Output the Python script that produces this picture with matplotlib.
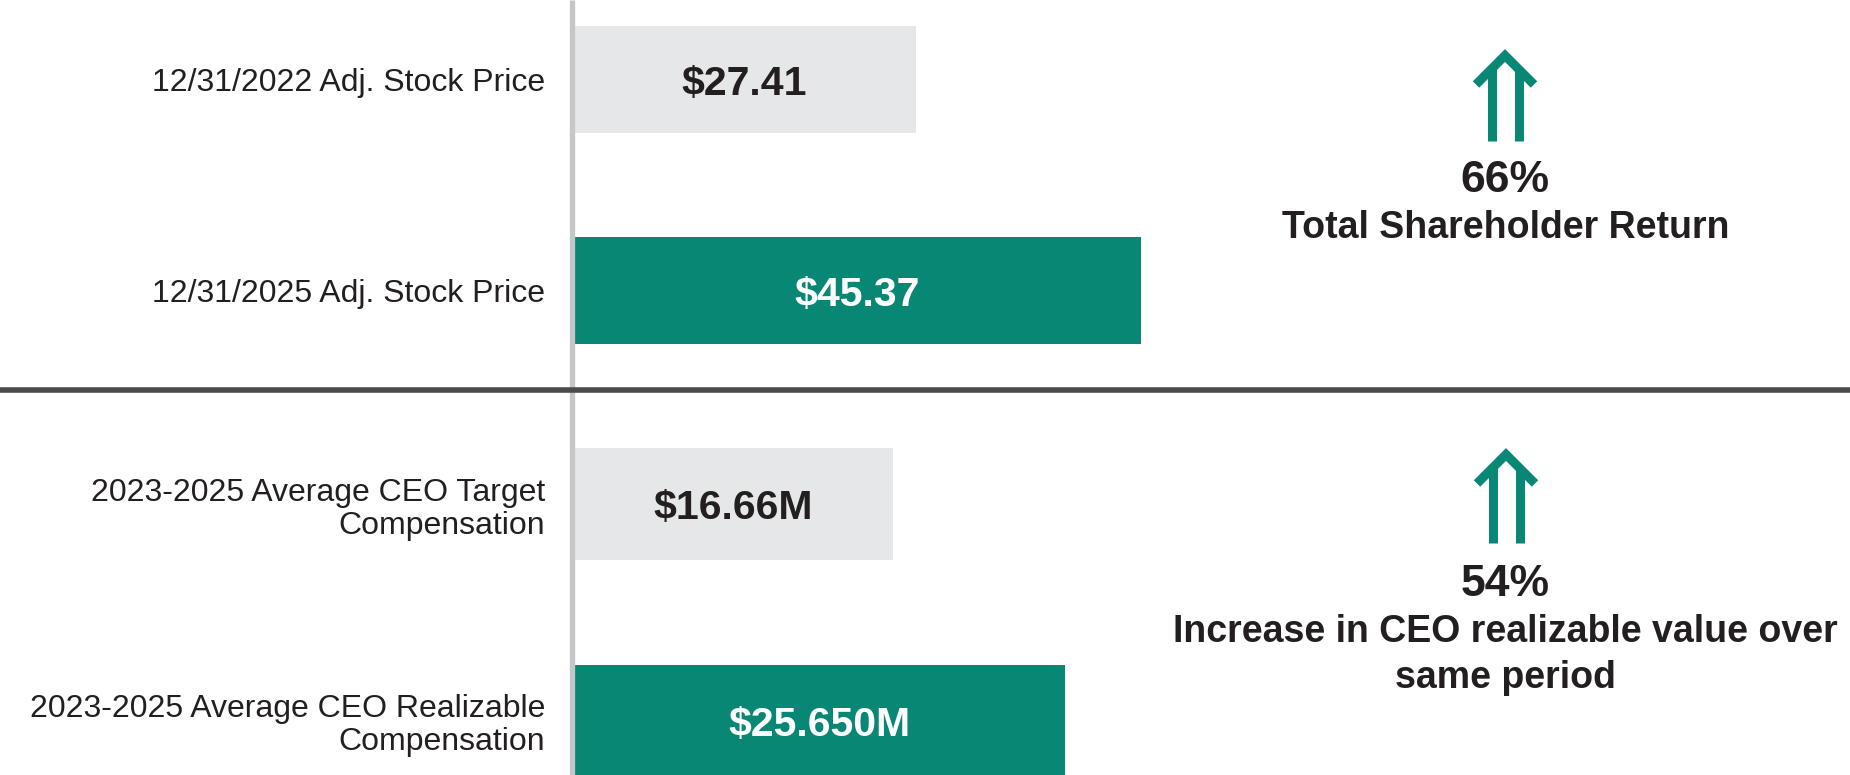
import matplotlib
matplotlib.use("Agg")
import matplotlib.pyplot as plt

plt.rcParams['font.family'] = ['Liberation Sans', 'DejaVu Sans']

# data
price_labels = ["12/31/2022 Adj. Stock Price", "12/31/2025 Adj. Stock Price"]
price_values = [27.41, 45.37]
price_text = ["$27.41", "$45.37"]

comp_labels = ["2023-2025 Average CEO Target\nCompensation",
               "2023-2025 Average CEO Realizable\nCompensation"]
comp_values = [16.66, 25.650]
comp_text = ["$16.66M", "$25.650M"]

tsr_pct = "66%"
tsr_caption = "Total Shareholder Return"
ceo_pct = "54%"
ceo_caption = "Increase in CEO realizable value over\nsame period"

TEAL = "#088775"
GREY = "#e6e7e8"
DARK = "#231f20"

W, H = 1850, 775
fig = plt.figure(figsize=(W / 100, H / 100), dpi=100)
fig.patch.set_facecolor("white")


def px_axes(x0, y0, x1, y1):
    # axes given in pixel coords (top-left origin)
    return fig.add_axes([x0 / W, 1 - y1 / H, (x1 - x0) / W, (y1 - y0) / H])


def bar_panel(ax, labels, values, texts, xmax, ylim, height):
    colors = [GREY, TEAL]
    tcolors = [DARK, "white"]
    ypos = range(len(values))
    ax.barh(ypos, values, height=height, color=colors, left=0)
    for y, v, t, c in zip(ypos, values, texts, tcolors):
        ax.text(v / 2, y, t, ha="center", va="center_baseline", fontsize=29.5,
                fontweight="bold", color=c)
    ax.set_xlim(0, xmax)
    ax.set_ylim(*ylim)
    ax.set_yticks(list(ypos))
    ax.set_yticklabels(labels, fontsize=23, color=DARK)
    for lab in ax.get_yticklabels():
        lab.set_linespacing(1.13)
    ax.tick_params(axis="y", length=0, pad=20)
    ax.set_xticks([])
    for s in ax.spines.values():
        s.set_visible(False)
    ax.patch.set_alpha(0)


ax1 = px_axes(573, 0, W, 387)
bar_panel(ax1, price_labels, price_values, price_text, 102.0, (1.457, -0.377), 0.51)

ax2 = px_axes(573, 391, W, H)
bar_panel(ax2, comp_labels, comp_values, comp_text, 66.55, (1.249, -0.521), 0.516)

# overlay for rules, arrows and callouts
ov = fig.add_axes([0, 0, 1, 1], zorder=5)
ov.set_xlim(0, W)
ov.set_ylim(H, 0)
ov.axis("off")
ov.patch.set_alpha(0)

ov.plot([571.5, 571.5], [0, H], color="#c6c6c6", lw=3.8, solid_capstyle="butt")
ov.plot([0, W], [389.5, 389.5], color="#4b4b4b", lw=4.0, solid_capstyle="butt")


def double_arrow(cx, top, bottom):
    lw = 6.5
    apex = top + 6.5
    ov.plot([cx - 29, cx, cx + 29], [apex + 29, apex, apex + 29],
            color=TEAL, lw=lw, solid_joinstyle="miter", solid_capstyle="butt")
    for dx in (-13.5, 13.5):
        ov.plot([cx + dx, cx + dx], [apex + 12, bottom], color=TEAL, lw=lw,
                solid_capstyle="butt")


double_arrow(1505, 49, 141)
double_arrow(1506, 448, 543)

ov.text(1505, 180, tsr_pct, ha="center", va="center", fontsize=32,
        fontweight="bold", color=DARK)
ov.text(1506, 228, tsr_caption, ha="center", va="center", fontsize=27,
        fontweight="bold", color=DARK)
ov.text(1505, 585, ceo_pct, ha="center", va="center", fontsize=32,
        fontweight="bold", color=DARK)
ov.text(1505, 655, ceo_caption, ha="center", va="center", fontsize=27,
        fontweight="bold", color=DARK, linespacing=1.38,
        multialignment="center")

fig.savefig("out.png", dpi=100)
